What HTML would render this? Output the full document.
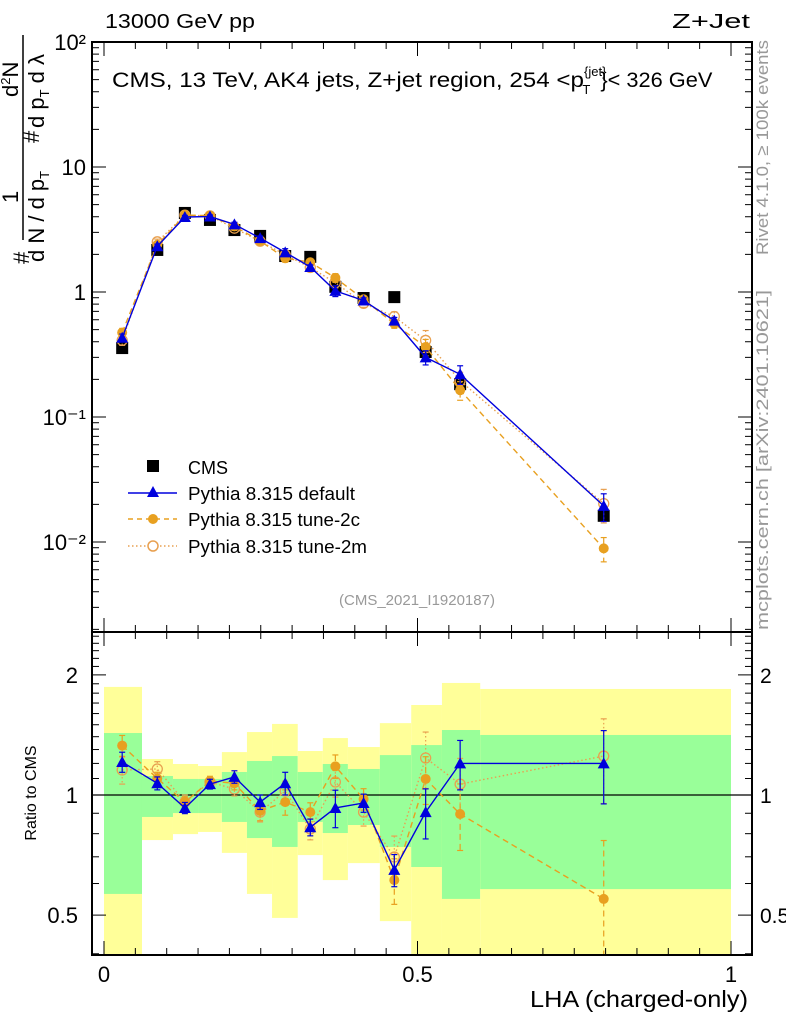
<!DOCTYPE html>
<html><head><meta charset="utf-8"><style>
html,body{margin:0;padding:0;background:#fff;}
svg{display:block;font-family:"Liberation Sans",sans-serif;}
</style></head><body>
<svg id="chart" width="786" height="1024" viewBox="0 0 786 1024" xmlns="http://www.w3.org/2000/svg">
<g id="bands"></g>
<g id="marks"></g>
<g id="axes"></g>
<text x="105" y="28" font-size="20" textLength="150" lengthAdjust="spacingAndGlyphs">13000 GeV pp</text>
<text x="672" y="28" font-size="20" textLength="78" lengthAdjust="spacingAndGlyphs">Z+Jet</text>
<text x="112" y="87" font-size="21"><tspan textLength="472" lengthAdjust="spacingAndGlyphs">CMS, 13 TeV, AK4 jets, Z+jet region, 254 &lt;p</tspan><tspan font-size="13" dy="-11">{jet}</tspan><tspan font-size="13" dx="-24" dy="18">T</tspan><tspan dy="-7" dx="10" textLength="112" lengthAdjust="spacingAndGlyphs">}&lt; 326 GeV</tspan></text>
<text transform="translate(768,255) rotate(-90)" font-size="17" fill="#999" textLength="215" lengthAdjust="spacingAndGlyphs">Rivet 4.1.0, ≥ 100k events</text>
<text transform="translate(768,630) rotate(-90)" font-size="17" fill="#999" textLength="340" lengthAdjust="spacingAndGlyphs">mcplots.cern.ch [arXiv:2401.10621]</text>
<text x="417" y="605" font-size="15" fill="#999" text-anchor="middle">(CMS_2021_I1920187)</text>
<g font-size="22">
<line x1="23" y1="35" x2="23" y2="240" stroke="#000" stroke-width="1.5"/>
<text transform="translate(29,264) rotate(-90)">#</text>
<text transform="translate(18,203) rotate(-90)">1</text>
<text transform="translate(44,262) rotate(-90)">d N / d p<tspan font-size="13" dy="5">T</tspan></text>
<text transform="translate(39,143) rotate(-90)">#</text>
<text transform="translate(18,97) rotate(-90)">d<tspan font-size="13" dy="-8">2</tspan><tspan dy="8">N</tspan></text>
<text transform="translate(44,128) rotate(-90)">d p<tspan font-size="13" dy="5">T</tspan><tspan dy="-5"> d λ</tspan></text>
</g>
<text transform="translate(36,793) rotate(-90)" font-size="16" text-anchor="middle">Ratio to CMS</text>
<text x="748" y="1007" font-size="23" text-anchor="end" textLength="218" lengthAdjust="spacingAndGlyphs">LHA (charged-only)</text>
<g font-size="18">
<g><rect x="147" y="460" width="12" height="12" fill="#000"/><text x="188" y="474">CMS</text></g>
<g><line x1="128" y1="493" x2="177" y2="493" stroke="#0000dd" stroke-width="1.5"/><polygon points="153,486 159,497 147,497" fill="#0000dd"/><text x="188" y="500" textLength="167" lengthAdjust="spacingAndGlyphs">Pythia 8.315 default</text></g>
<g><line x1="128" y1="519" x2="177" y2="519" stroke="#e8a020" stroke-width="1.5" stroke-dasharray="5,4"/><circle cx="153" cy="519" r="5" fill="#e8a020"/><text x="188" y="526" textLength="172" lengthAdjust="spacingAndGlyphs">Pythia 8.315 tune-2c</text></g>
<g><line x1="128" y1="546" x2="177" y2="546" stroke="#e8a050" stroke-width="1.5" stroke-dasharray="1.5,2.5"/><circle cx="153" cy="546" r="5" fill="#fff" stroke="#e8a050" stroke-width="1.5"/><text x="188" y="553" textLength="179" lengthAdjust="spacingAndGlyphs">Pythia 8.315 tune-2m</text></g>
</g>
</svg>
<script>
const binEdges=[0,0.0606,0.110,0.150,0.188,0.228,0.268,0.309,0.349,0.389,0.440,0.490,0.539,0.600,1.0];
const pointX=[0.029,0.085,0.129,0.169,0.208,0.249,0.289,0.329,0.369,0.414,0.463,0.513,0.568,0.797];
const cmsValues=[0.356,2.17,4.29,3.77,3.13,2.81,1.94,1.91,1.10,0.895,0.91,0.331,0.183,0.0162];
const ratioDefault=[1.21,1.07,0.928,1.065,1.11,0.96,1.07,0.83,0.928,0.955,0.649,0.906,1.20,1.20];
const ratio2c=[1.33,1.10,0.96,1.084,1.07,0.912,0.96,0.906,1.18,0.977,0.612,1.097,0.896,0.549];
const ratio2m=[1.155,1.162,0.96,1.078,1.035,0.906,1.023,0.822,1.078,0.906,0.699,1.238,1.065,1.252];
const errDefault=[0.07,0.04,0.03,0.03,0.04,0.04,0.07,0.04,0.10,0.05,0.06,0.13,0.17,0.25];
const err2c=[0.08,0.04,0.03,0.03,0.04,0.05,0.07,0.05,0.08,0.06,0.08,0.15,0.17,0.22];
const err2m=[0.09,0.05,0.04,0.03,0.04,0.05,0.06,0.05,0.09,0.07,0.09,0.20,0.17,0.30];
const yellowHi=[1.866,1.231,1.196,1.182,1.281,1.438,1.507,1.289,1.389,1.319,1.514,1.681,1.909,1.844];
const yellowLo=[0.3,0.771,0.798,0.808,0.716,0.565,0.492,0.707,0.612,0.675,0.483,0.3,0.3,0.3];
const greenHi=[1.43,1.116,1.097,1.097,1.142,1.217,1.252,1.142,1.196,1.162,1.259,1.334,1.455,1.414];
const greenLo=[0.565,0.881,0.901,0.901,0.856,0.780,0.741,0.856,0.803,0.841,0.741,0.660,0.549,0.581];
const mainTickLabels=["10²","10","1","10⁻¹","10⁻²"];
const mainTickValues=[100,10,1,0.1,0.01];
const ratioTickValues=[2,1,0.5];
const ratioTickLabels=["2","1","0.5"];
const xTickValues=[0,0.5,1];
const xTickLabels=["0","0.5","1"];

const NS="http://www.w3.org/2000/svg";
const L=92,R=752,T=42,MID=632,B=955;
const X=v=>104+627*v;
const Ym=v=>292-125*Math.log10(v);
const Yr=v=>Math.max(MID,Math.min(B,795-399*Math.log10(v)));
function mk(tag,attrs,parent){const e=document.createElementNS(NS,tag);for(const k in attrs)e.setAttribute(k,attrs[k]);parent.appendChild(e);return e;}
const bands=document.getElementById('bands'),marks=document.getElementById('marks'),axes=document.getElementById('axes');

for(let i=0;i<pointX.length;i++){
  const x0=X(binEdges[i]),x1=X(binEdges[i+1]);
  let r=mk('rect',{x:x0,y:Yr(yellowHi[i]),width:x1-x0,height:Yr(yellowLo[i])-Yr(yellowHi[i]),fill:'#ffff99'},bands);
  
  
  r=mk('rect',{x:x0,y:Yr(greenHi[i]),width:x1-x0,height:Yr(greenLo[i])-Yr(greenHi[i]),fill:'#99ff99'},bands);
  
  
}
mk('line',{x1:L,y1:795,x2:R,y2:795,stroke:'#000','stroke-width':1.2},bands);

const series=[
 {name:'default',ratio:ratioDefault,err:errDefault,color:'#0000dd',dash:'',marker:'tri'},
 {name:'tune-2c',ratio:ratio2c,err:err2c,color:'#e8a020',dash:'6,4',marker:'dot'},
 {name:'tune-2m',ratio:ratio2m,err:err2m,color:'#e8a050',dash:'1.5,2.5',marker:'open'}
];
function marker(s,x,y,g){
  if(s.marker==='tri')return mk('polygon',{points:`${x},${y-6} ${x+6},${y+5} ${x-6},${y+5}`,fill:s.color},g);
  if(s.marker==='dot')return mk('circle',{cx:x,cy:y,r:5,fill:s.color},g);
  return mk('circle',{cx:x,cy:y,r:5,fill:'none',stroke:s.color,'stroke-width':1.3},g);
}
[series[2],series[1],series[0]].forEach(s=>{
  const gm=mk('g',{},marks);
  
  
  const mainVals=cmsValues.map((c,i)=>c*s.ratio[i]);
  const mp=pointX.map((v,i)=>X(v)+','+Ym(mainVals[i])).join(' ');
  mk('polyline',{points:mp,fill:'none',stroke:s.color,'stroke-width':1.4,'stroke-dasharray':s.dash},gm);
  const rp=pointX.map((v,i)=>X(v)+','+Yr(s.ratio[i])).join(' ');
  mk('polyline',{points:rp,fill:'none',stroke:s.color,'stroke-width':1.4,'stroke-dasharray':s.dash},gm);
  pointX.forEach((v,i)=>{
    const x=X(v);
    const e=s.err[i];
    const yh=Ym(mainVals[i]*(1+e)),yl=Ym(mainVals[i]*Math.max(0.05,1-e));
    mk('line',{x1:x,y1:yh,x2:x,y2:yl,stroke:s.color,'stroke-width':1.2,'stroke-dasharray':s.dash},gm);
    mk('line',{x1:x-3,y1:yh,x2:x+3,y2:yh,stroke:s.color,'stroke-width':1.2},gm);
    mk('line',{x1:x-3,y1:yl,x2:x+3,y2:yl,stroke:s.color,'stroke-width':1.2},gm);
    let m=marker(s,x,Ym(mainVals[i]),gm);
    
    
    const rh=Yr(s.ratio[i]+e),rl=Yr(s.ratio[i]-e);
    mk('line',{x1:x,y1:rh,x2:x,y2:rl,stroke:s.color,'stroke-width':1.2,'stroke-dasharray':s.dash},gm);
    mk('line',{x1:x-3,y1:rh,x2:x+3,y2:rh,stroke:s.color,'stroke-width':1.2},gm);
    mk('line',{x1:x-3,y1:rl,x2:x+3,y2:rl,stroke:s.color,'stroke-width':1.2},gm);
    m=marker(s,x,Yr(s.ratio[i]),gm);
    
    
  });
});
const gc=mk('g',{},marks);


cmsValues.forEach((c,i)=>{
  const r=mk('rect',{x:X(pointX[i])-6,y:Ym(c)-6,width:12,height:12,fill:'#000'},gc);
  
  
});
gc.parentNode.insertBefore(gc,gc.parentNode.firstChild);

mk('rect',{x:L,y:T,width:R-L,height:MID-T,fill:'none',stroke:'#000','stroke-width':2},axes);
mk('rect',{x:L,y:MID,width:R-L,height:B-MID,fill:'none',stroke:'#000','stroke-width':2},axes);
for(let d=-3;d<=2;d++){for(let k=1;k<10;k++){const v=k*Math.pow(10,d);const y=Ym(v);if(y<T||y>MID)continue;const len=k===1?14:7;
 mk('line',{x1:L,y1:y,x2:L+len,y2:y,stroke:'#000','stroke-width':1},axes);
 mk('line',{x1:R,y1:y,x2:R-len,y2:y,stroke:'#000','stroke-width':1},axes);}}
mainTickValues.forEach((v,i)=>{const t=mk('text',{x:86,y:Ym(v)+8,'font-size':22,'text-anchor':'end'},axes);t.textContent=mainTickLabels[i];
 
 });
for(let k=3;k<=25;k++){const v=k/10;const y=Yr(v);if(y<=MID||y>=B)continue;const major=(v===0.5||v===1||v===2);const len=major?14:7;
 mk('line',{x1:L,y1:y,x2:L+len,y2:y,stroke:'#000','stroke-width':1},axes);
 mk('line',{x1:R,y1:y,x2:R-len,y2:y,stroke:'#000','stroke-width':1},axes);}
ratioTickValues.forEach((v,i)=>{
 let t=mk('text',{x:78,y:Yr(v)+8,'font-size':22,'text-anchor':'end'},axes);t.textContent=ratioTickLabels[i];
 
 
 t=mk('text',{x:760,y:Yr(v)+8,'font-size':21},axes);t.textContent=ratioTickLabels[i];
 
 });
for(let k=0;k<=20;k++){const v=k*0.05;const x=X(v);if(x>R)continue;const major=k%10===0;const len=major?14:7;
 [[B,-1],[MID,1],[MID,-1],[T,1]].forEach(([y,dir])=>mk('line',{x1:x,y1:y,x2:x,y2:y+dir*len,stroke:'#000','stroke-width':1},axes));}
xTickValues.forEach((v,i)=>{const t=mk('text',{x:X(v),y:982,'font-size':22,'text-anchor':'middle'},axes);t.textContent=xTickLabels[i];
 
 });
</script>
</body></html>
